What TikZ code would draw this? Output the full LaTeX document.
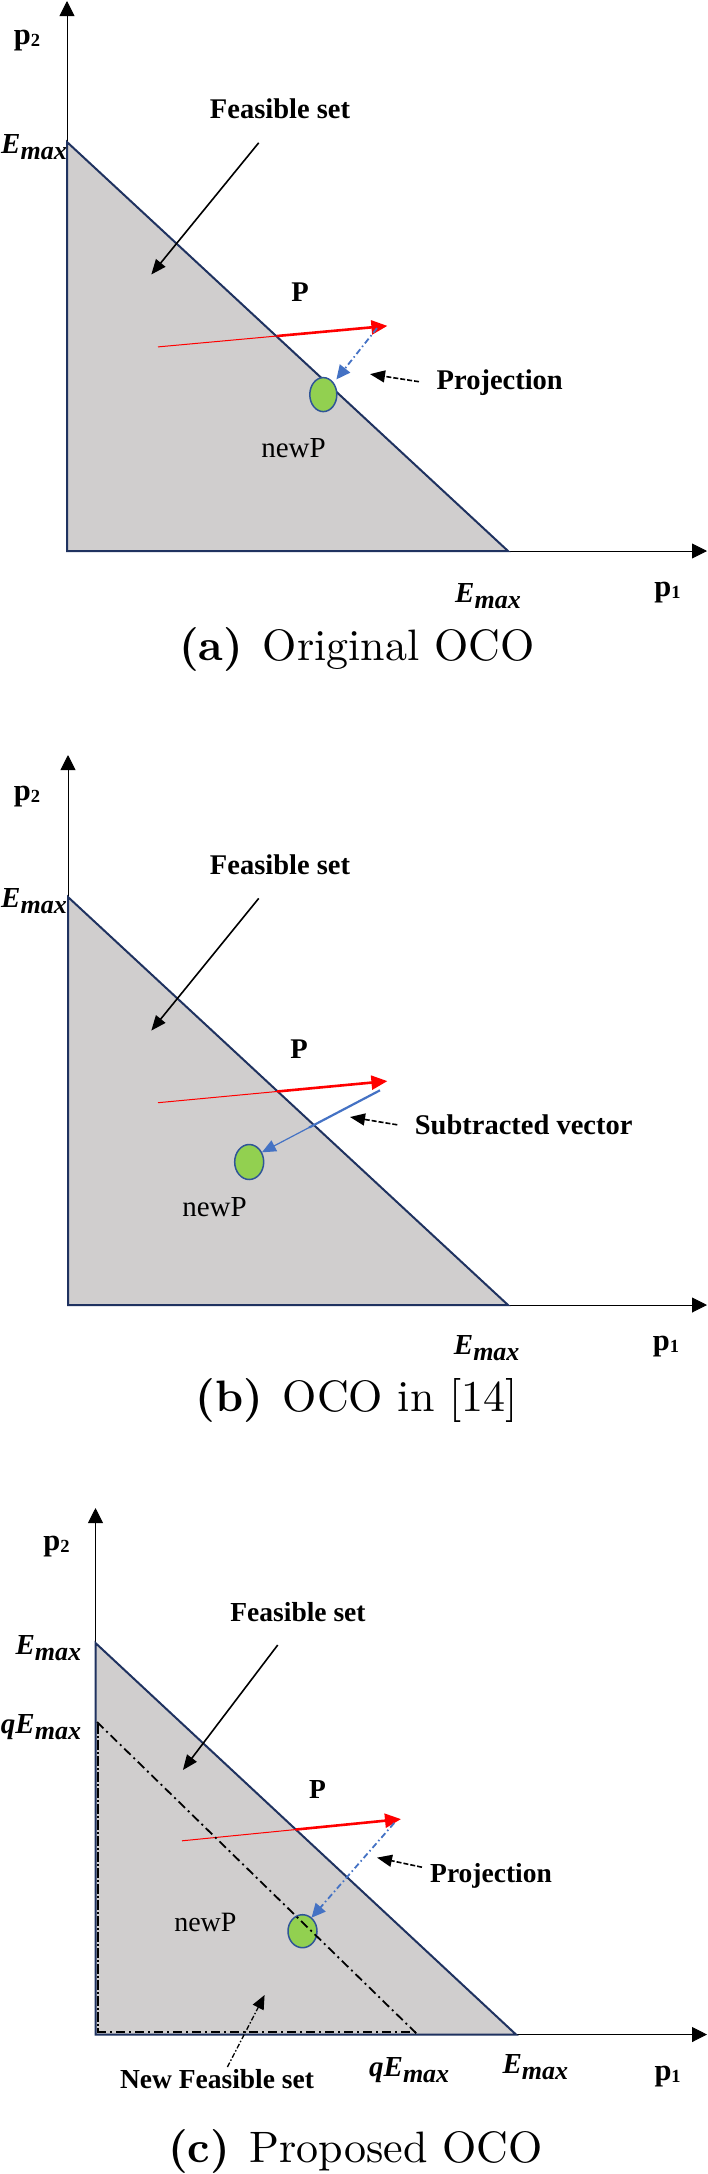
\documentclass[tikz,border=0pt]{standalone}
\usepackage{fontspec}
\setmainfont{lmroman10-regular.otf}[BoldFont=lmroman10-bold.otf]
\newfontfamily\tnr{Liberation Serif}
\usetikzlibrary{arrows.meta,calc,shapes.geometric}
\definecolor{fillgray}{RGB}{208,206,206}
\definecolor{navy}{RGB}{31,50,96}
\definecolor{pgreen}{RGB}{146,208,80}
\definecolor{pblue}{RGB}{68,114,196}
\definecolor{edgeblue}{RGB}{47,85,151}
\newcommand{\Emx}{{\tnr\bfseries\itshape\fontsize{29}{30}\selectfont E\raisebox{-6pt}{\fontsize{26}{26}\selectfont max}}}
\newcommand{\qEmx}{{\tnr\bfseries\itshape\fontsize{29}{30}\selectfont qE\raisebox{-6pt}{\fontsize{26}{26}\selectfont max}}}
\newcommand{\pone}{{\tnr\bfseries\fontsize{30.5}{30}\selectfont p\raisebox{-2pt}{\fontsize{18.5}{20}\selectfont 1}}}
\newcommand{\ptwo}{{\tnr\bfseries\fontsize{30.5}{30}\selectfont p\raisebox{-2pt}{\fontsize{18.5}{20}\selectfont 2}}}
\begin{document}
\begin{tikzpicture}[x=1pt,y=-1pt,
  axisline/.style={draw=black,line width=0.9pt,-{Triangle[length=15pt,width=15pt]}},
  triedge/.style={draw=navy,line width=2pt,line join=miter},
  lbl/.style={inner sep=0pt,font=\tnr\bfseries\fontsize{28.5}{32}\selectfont},
  lblc/.style={inner sep=0pt,font=\tnr\bfseries\fontsize{27.5}{32}\selectfont},
  lblr/.style={inner sep=0pt,font=\tnr\fontsize{29}{32}\selectfont},
  lblrc/.style={inner sep=0pt,font=\tnr\fontsize{28}{32}\selectfont},
  plainlbl/.style={inner sep=0pt},
  captext/.style={inner sep=0pt,font=\fontsize{44}{50}\selectfont},
  blk/.style={draw=black,line width=1.6pt,-{Triangle[length=15pt,width=12pt]}},
  projarr/.style={blk,dash pattern=on 5pt off 2pt},
  redthin/.style={draw=red,line width=1pt},
  redthick/.style={draw=red,line width=2.6pt,-{Triangle[length=16pt,width=14pt]}},
  bluedd/.style={draw=pblue,line width=1.8pt,dash pattern=on 6pt off 3pt on 1.5pt off 3pt,-{Triangle[length=14pt,width=13pt]}},
  bluethick/.style={draw=pblue,line width=2.2pt},
  bluethin/.style={draw=pblue,line width=1.2pt,-{Triangle[length=14pt,width=12pt]}},
  newp/.style={ellipse,fill=pgreen,draw=edgeblue,line width=1.5pt,minimum width=27pt,minimum height=34pt,inner sep=0pt},
  ddline/.style={draw=black,line width=1.8pt,dash pattern=on 9pt off 4pt on 2pt off 4pt},
  dashvline/.style={draw=black,line width=2.5pt,dash pattern=on 10pt off 2pt on 2pt off 2pt},
  nfsarr/.style={draw=black,line width=1.3pt,dash pattern=on 5pt off 2pt on 1.5pt off 2pt,-{Triangle[length=14pt,width=12pt]}}
]
\useasboundingbox (0,0) rectangle (708,2174);

% ---------------- Panel (a) ----------------
\coordinate (oA) at (67,551);
\coordinate (yA) at (67,1);
\coordinate (xA) at (707,551);
\coordinate (eA) at (67,142);
\coordinate (fA) at (508,551);
\fill[fillgray] (eA) -- (fA) -- (oA) -- cycle;
\draw[axisline] (oA) -- (yA);
\draw[axisline] (oA) -- (xA);
\draw[triedge] (eA) -- (fA) -- (oA) -- cycle;
\node[plainlbl] (p2A) at (27,41) {\ptwo};
\node[plainlbl] (emA) at (34,147) {\Emx};
\node[plainlbl] (emxA) at (488,596) {\Emx};
\node[plainlbl] (p1A) at (667.5,593) {\pone};
\node[lbl] (fsA) at (280,108.5) {Feasible set};
\coordinate (fsA1) at (258.7,142.8);
\coordinate (fsA2) at (151.3,274.5);
\draw[blk] (fsA1) -- (fsA2);
\node[lbl] (PA) at (300.2,292.4) {P};
\coordinate (rA1) at (158,346.9);
\coordinate (rA2) at (387.4,325.9);
\draw[redthin] (rA1) -- ($(rA1)!0.55!(rA2)$);
\draw[redthick] ($(rA1)!0.52!(rA2)$) -- (rA2);
\node[newp] (gA) at (323.3,394.6) {};
\coordinate (bA1) at (377,328.1);
\coordinate (bA2) at (336.4,379.4);
\draw[bluedd] (bA1) -- (bA2);
\node[lbl,anchor=west] (prA) at (436.5,383) {Projection};
\coordinate (prA1) at (419,381.7);
\coordinate (prA2) at (370,374.1);
\draw[projarr] (prA1) -- (prA2);
\node[lblr] (npA) at (293.5,448.6) {newP};
\node[captext] (capA) at (356.7,649.5) {{\bfseries (a)}\hskip0.45em Original OCO};

% ---------------- Panel (b) ----------------
\coordinate (oB) at (68,1305);
\coordinate (yB) at (68,755);
\coordinate (xB) at (707,1305);
\coordinate (eB) at (68,897);
\coordinate (fB) at (508,1305);
\fill[fillgray] (eB) -- (fB) -- (oB) -- cycle;
\draw[axisline] (oB) -- (yB);
\draw[axisline] (oB) -- (xB);
\draw[triedge] (eB) -- (fB) -- (oB) -- cycle;
\node[plainlbl] (p2B) at (27,796.4) {\ptwo};
\node[plainlbl] (emB) at (34,901.5) {\Emx};
\node[plainlbl] (emxB) at (486.7,1348.5) {\Emx};
\node[plainlbl] (p1B) at (666,1346.5) {\pone};
\node[lbl] (fsB) at (280,864.4) {Feasible set};
\coordinate (fsB1) at (258.7,898.4);
\coordinate (fsB2) at (151.3,1030.6);
\draw[blk] (fsB1) -- (fsB2);
\node[lbl] (PB) at (299,1049) {P};
\coordinate (rB1) at (158,1102.7);
\coordinate (rB2) at (387.4,1081.1);
\draw[redthin] (rB1) -- ($(rB1)!0.55!(rB2)$);
\draw[redthick] ($(rB1)!0.52!(rB2)$) -- (rB2);
\node[newp,minimum width=29pt,minimum height=35pt] (gB) at (249.2,1162) {};
\coordinate (bB1) at (380,1090.3);
\coordinate (bB2) at (261.9,1152.3);
\draw[bluethick] (bB1) -- ($(bB1)!0.6!(bB2)$);
\draw[bluethin] ($(bB1)!0.57!(bB2)$) -- (bB2);
\node[lbl] (svB) at (523.7,1124.8) {Subtracted vector};
\coordinate (svB1) at (397.3,1124.8);
\coordinate (svB2) at (350,1117);
\draw[projarr] (svB1) -- (svB2);
\node[lblr] (npB) at (214.5,1207.4) {newP};
\node[captext] (capB) at (356.7,1400.3) {{\bfseries (b)}\hskip0.45em OCO in [14]};

% ---------------- Panel (c) ----------------
\coordinate (oC) at (95.5,2034.5);
\coordinate (yC) at (95.5,1508);
\coordinate (xC) at (707,2034.5);
\coordinate (eC) at (95.5,1643);
\coordinate (fC) at (516,2034.5);
\coordinate (qyC) at (97,1722);
\coordinate (qxC) at (417.5,2034.5);
\fill[fillgray] (eC) -- (fC) -- (oC) -- cycle;
\draw[axisline] (oC) -- (yC);
\draw[axisline] (oC) -- (xC);
\draw[triedge] (eC) -- (fC) -- (oC) -- cycle;
\draw[dashvline] (97.8,1724) -- (97.8,2032);
\draw[ddline] (97,2032.2) -- (417,2032.2);
\node[plainlbl] (p2C) at (56.5,1547) {\ptwo};
\node[plainlbl] (emC) at (48.3,1648) {\Emx};
\node[plainlbl] (qemC) at (41,1727.5) {\qEmx};
\node[plainlbl] (qemxC) at (409.2,2070.5) {\qEmx};
\node[plainlbl] (emxC) at (535.3,2067) {\Emx};
\node[plainlbl] (p1C) at (667.6,2076.5) {\pone};
\node[lblc] (fsC) at (298,1612.4) {Feasible set};
\coordinate (fsC1) at (277.7,1645);
\coordinate (fsC2) at (182.9,1770);
\draw[blk] (fsC1) -- (fsC2);
\node[lblc] (PC) at (317.4,1789.3) {P};
\coordinate (rC1) at (182,1840.8);
\coordinate (rC2) at (401,1819.1);
\draw[redthin] (rC1) -- ($(rC1)!0.55!(rC2)$);
\draw[redthick] ($(rC1)!0.52!(rC2)$) -- (rC2);
\node[newp,minimum width=29pt,minimum height=33pt] (gC) at (302.5,1931.2) {};
\draw[ddline] (qyC) -- (qxC);
\coordinate (bC1) at (394.2,1823);
\coordinate (bC2) at (311.5,1917.7);
\draw[bluedd] (bC1) -- (bC2);
\node[lblc,anchor=west] (prC) at (430,1875.5) {Projection};
\coordinate (prC1) at (422,1867.2);
\coordinate (prC2) at (377,1857.6);
\draw[projarr] (prC1) -- (prC2);
\node[lblrc] (npC) at (205.4,1922.5) {newP};
\node[lblc] (nfsC) at (217,2079.2) {New Feasible set};
\coordinate (nfC1) at (227.4,2067);
\coordinate (nfC2) at (264.6,1995);
\draw[nfsarr] (nfC1) -- (nfC2);
\node[captext] (capC) at (355.5,2151.4) {{\bfseries (c)}\hskip0.45em Proposed OCO};
\end{tikzpicture}
\end{document}
